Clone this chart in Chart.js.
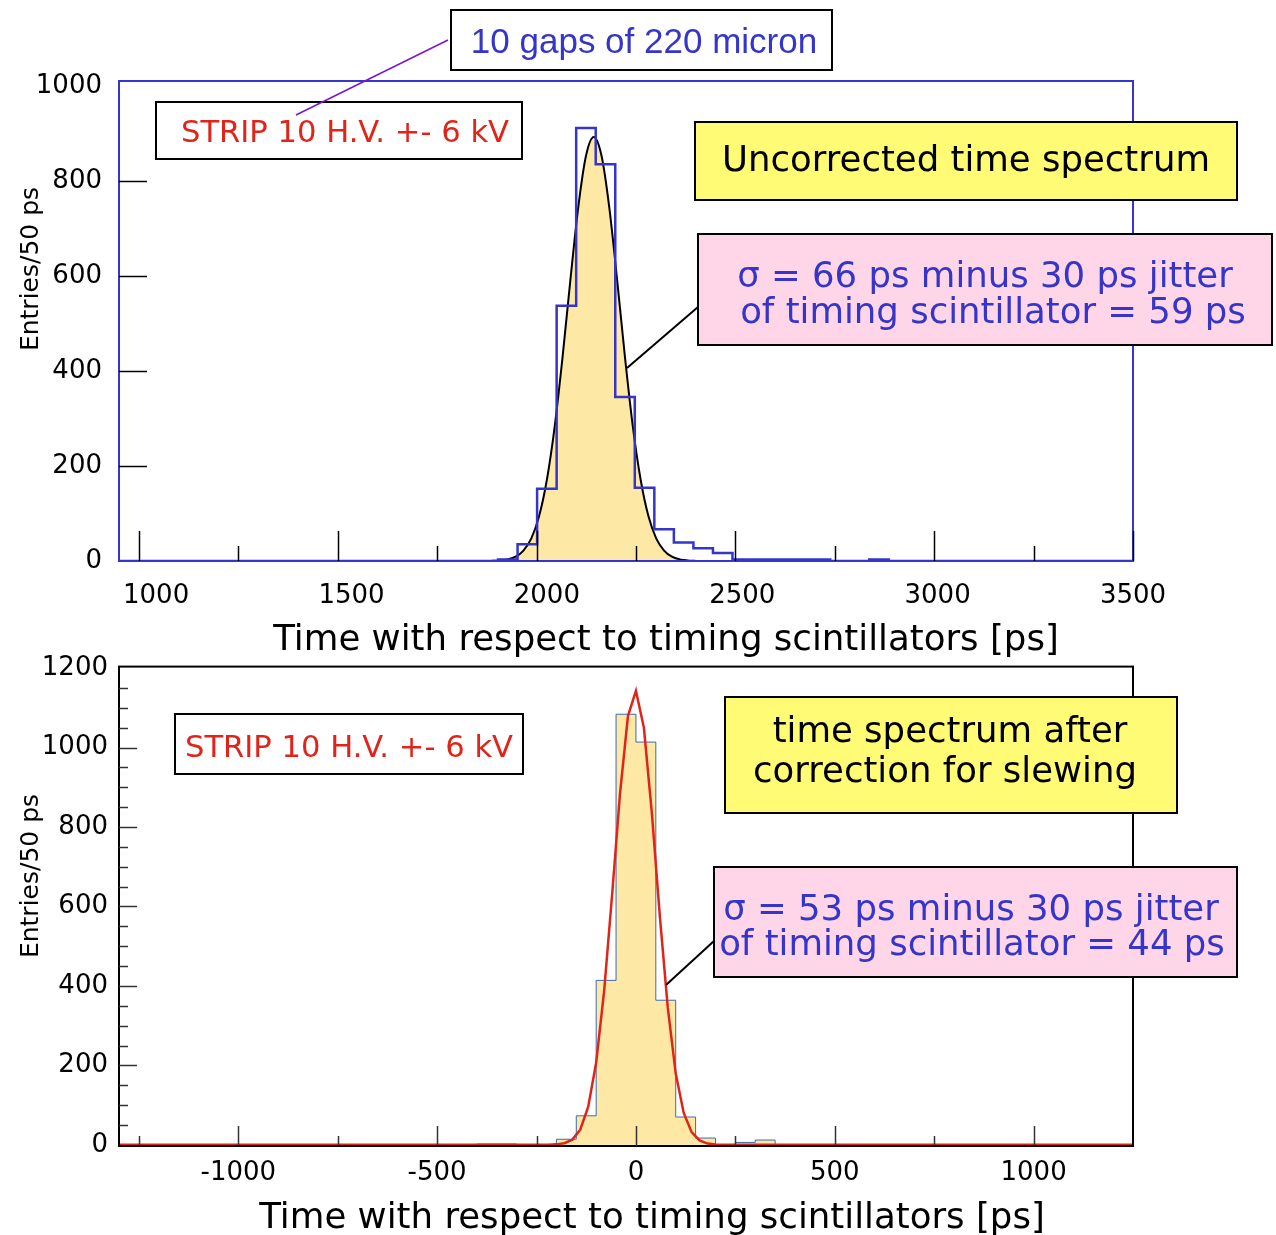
<!DOCTYPE html>
<html>
<head>
<meta charset="utf-8">
<title>Strip 10 time spectra</title>
<script src="https://cdn.jsdelivr.net/npm/chart.js@4.4.1/dist/chart.umd.min.js"></script>
<style>
  html, body { margin: 0; padding: 0; background: #fff; }
  #page  { position: relative; width: 1276px; height: 1235px; overflow: hidden; }
  .panel { position: absolute; left: 0; width: 1276px; }
  #topPanel { top: 0;     height: 662px; }
  #botPanel { top: 640px; height: 595px; }
</style>
</head>
<body>
<div id="page">
  <div class="panel" id="topPanel"><canvas id="chartTop"></canvas></div>
  <div class="panel" id="botPanel"><canvas id="chartBot"></canvas></div>
</div>
<script>
"use strict";

// ── DATA ────────────────────────────────────
// upper panel: uncorrected spectrum, 50 ps bins (lower edges, ps)
const topBinLow = [1875, 1925, 1975, 2025, 2075, 2125, 2175, 2225, 2275, 2325,
                   2375, 2425, 2475, 2525, 2575, 2625, 2675, 2725, 2775, 2825];
const topCounts = [3, 35, 152, 537, 911, 835, 345, 154, 67, 39,
                   27, 17, 3, 3, 3, 3, 3, 0, 0, 3];
// black fit curve
const topFitX = [1860, 1880, 1900, 1920, 1940, 1960, 1980, 2000, 2020, 2040, 2060, 2080, 2100, 2120,
                 2140, 2160, 2180, 2200, 2220, 2240, 2260, 2280, 2300, 2320, 2340, 2360, 2380];
const topFitY = [0.4, 1.2, 3.4, 9, 22, 47, 94, 171, 283, 428, 590, 742, 852, 892,
                 852, 742, 590, 428, 283, 171, 94, 47, 22, 9, 3.4, 1.2, 0.4];
const topXLabels = [1000, 1500, 2000, 2500, 3000, 3500];
const topYLabels = [0, 200, 400, 600, 800, 1000];

// lower panel: after slewing correction
const botBinLow = [-400, -350, -300, -250, -200, -150, -100, -50, 0, 50, 100, 150, 200, 250, 300];
const botCounts = [2, 2, 0, 0, 14, 73, 414, 1084, 1014, 364, 70, 17, 0, 6, 12];
// red fit curve
const botFitX = [-1300, -220, -200, -180, -160, -140, -120, -100, -80, -60, -40, -20, 0,
                 20, 40, 60, 80, 100, 120, 140, 160, 180, 200, 220, 1250];
const botFitY = [0, 0.2, 1.1, 4.1, 13, 38, 96, 207, 387, 629, 885, 1080, 1143,
                 1050, 836, 577, 346, 180, 81, 32, 11, 3, 0.8, 0.2, 0];
const botXLabels = [-1000, -500, 0, 500, 1000];
const botYLabels = [0, 200, 400, 600, 800, 1000, 1200];

// inner tick marks (the x ones sit on a -1300..1250 frame axis in both panels)
const topMarkLong  = [-1250, -750, -250, 250, 750, 1250];
const topMarkShort = [-1000, -500, 0, 500, 1000];
const topYMarks    = [200, 400, 600, 800];
const botMarkLong  = [-1000, -500, 0, 500, 1000];
const botMarkShort = [-1250, -750, -250, 250, 750];
const botYMajor    = [200, 400, 600, 800, 1000];
const botYMinor    = [50, 100, 150, 250, 300, 350, 450, 500, 550, 650, 700, 750,
                      850, 900, 950, 1050, 1100, 1150];

// ── STYLE ───────────────────────────────────
const BLUE      = "#3535c9";
const RED       = "#e0241a";
const FILL      = "#fde8a6";
const BOX_YEL   = "#fffb74";
const BOX_PINK  = "#ffd6e8";
const STEEL     = "#3b6cb2";
const PURPLE    = "#7b14d0";
const FONT      = "'DejaVu Sans'";
const X_TITLE   = "Time with respect to timing scintillators [ps]";

Chart.defaults.font.family = FONT;
Chart.defaults.color = "#000";

/* histogram outline as a stepped line, zero outside the bins */
function histPoints(low, counts, xmin, xmax) {
  const pts = [{ x: xmin, y: 0 }, { x: low[0], y: 0 }];
  low.forEach((x, i) => pts.push({ x: x, y: counts[i] }));
  pts.push({ x: low[low.length - 1] + 50, y: 0 }, { x: xmax, y: 0 });
  return pts;
}

function xyPoints(xs, ys) {
  return xs.map((x, i) => ({ x: x, y: ys[i] }));
}

/* frame, inward tick marks, captions and boxes */
function decor(cfg) {
  return {
    id: "decor",
    afterDatasetsDraw(chart) {
      const { ctx, chartArea: a, scales } = chart;
      ctx.save();
      ctx.strokeStyle = cfg.frameColor;
      ctx.lineWidth = 2;
      ctx.strokeRect(a.left, a.top, a.right - a.left, a.bottom - a.top);

      ctx.strokeStyle = cfg.markColor;
      ctx.lineWidth = 1.5;
      const xm = scales.xm, y = scales.y;
      cfg.xMarks.forEach(([vals, len]) => vals.forEach(v => {
        const px = Math.round(xm.getPixelForValue(v)) + 0.5;
        ctx.beginPath(); ctx.moveTo(px, a.bottom); ctx.lineTo(px, a.bottom - len); ctx.stroke();
      }));
      cfg.yMarks.forEach(([vals, len]) => vals.forEach(v => {
        const py = Math.round(y.getPixelForValue(v)) + 0.5;
        ctx.beginPath(); ctx.moveTo(a.left, py); ctx.lineTo(a.left + len, py); ctx.stroke();
      }));
      ctx.restore();
    },
    afterDraw(chart) {
      const ctx = chart.ctx, dy = cfg.dy;
      ctx.save();
      ctx.fillStyle = "#000";
      ctx.textBaseline = "alphabetic";
      ctx.textAlign = "center";

      // axis captions
      ctx.font = "25px " + FONT;
      ctx.save();
      ctx.translate(cfg.yTitle.x, cfg.yTitle.y - dy);
      ctx.rotate(-Math.PI / 2);
      ctx.fillText("Entries/50 ps", 0, 0);
      ctx.restore();
      ctx.font = "35.6px " + FONT;
      ctx.fillText(X_TITLE, cfg.xTitle.x, cfg.xTitle.y - dy);

      // connector lines under the boxes
      cfg.links.forEach(l => {
        ctx.strokeStyle = l.color; ctx.lineWidth = l.width;
        ctx.beginPath(); ctx.moveTo(l.from[0], l.from[1] - dy); ctx.lineTo(l.to[0], l.to[1] - dy); ctx.stroke();
      });

      cfg.boxes.forEach(b => {
        ctx.fillStyle = b.fill;
        ctx.fillRect(b.x, b.y - dy, b.w, b.h);
        ctx.strokeStyle = "#000"; ctx.lineWidth = 2;
        ctx.strokeRect(b.x, b.y - dy, b.w, b.h);
        ctx.font = b.font;
        ctx.fillStyle = b.color;
        b.lines.forEach(l => ctx.fillText(l.t, l.x, l.y - dy));
      });

      (cfg.overLinks || []).forEach(l => {
        ctx.strokeStyle = l.color; ctx.lineWidth = l.width;
        ctx.beginPath(); ctx.moveTo(l.from[0], l.from[1] - dy); ctx.lineTo(l.to[0], l.to[1] - dy); ctx.stroke();
      });
      ctx.restore();
    }
  };
}

function tickFont(size) { return { family: FONT, size: size }; }

/* ══════════════════════════════════════════
   UPPER PANEL — uncorrected time spectrum
══════════════════════════════════════════ */
new Chart(document.getElementById("chartTop"), {
  type: "line",
  data: {
    datasets: [{
      label: "fit",
      data: xyPoints(topFitX, topFitY),
      xAxisID: "x", yAxisID: "y",
      borderColor: "#000",
      borderWidth: 2,
      backgroundColor: FILL,
      fill: "origin",
      pointRadius: 0,
      cubicInterpolationMode: "monotone",
      order: 2,
    }, {
      label: "entries",
      data: histPoints(topBinLow, topCounts, 905, 3500),
      xAxisID: "x", yAxisID: "y",
      stepped: "before",
      borderColor: BLUE,
      borderWidth: 2.5,
      fill: false,
      pointRadius: 0,
      order: 1,
    }]
  },
  options: {
    responsive: true,
    maintainAspectRatio: false,
    animation: false,
    layout: { padding: { top: 81, right: 143, bottom: 0, left: 0 } },
    plugins: { legend: { display: false }, tooltip: { enabled: false } },
    scales: {
      x: {
        type: "linear", min: 905, max: 3500,
        afterBuildTicks: s => { s.ticks = topXLabels.map(v => ({ value: v })); },
        afterFit: s => { s.height = 101; },
        ticks: { autoSkip: false, maxRotation: 0, padding: 20, font: tickFont(26), callback: v => String(v) },
        grid: { display: false, drawTicks: false },
        border: { display: false },
      },
      xm: { type: "linear", display: false, min: -1300, max: 1250 },
      y: {
        type: "linear", min: 0, max: 1010,
        afterBuildTicks: s => { s.ticks = topYLabels.map(v => ({ value: v })); },
        afterFit: s => { s.width = 119; },
        ticks: { padding: 17, font: tickFont(26), callback: v => String(v) },
        grid: { display: false, drawTicks: false },
        border: { display: false },
      }
    }
  },
  plugins: [decor({
    dy: 0,
    frameColor: "#3636cc",
    markColor: "#000",
    xMarks: [[topMarkLong, 30], [topMarkShort, 15]],
    yMarks: [[topYMarks, 28]],
    yTitle: { x: 38, y: 269 },
    xTitle: { x: 666, y: 650 },
    links: [{ from: [627, 368], to: [698, 307], color: "#000", width: 2 }],
    overLinks: [{ from: [296, 115], to: [448, 40], color: PURPLE, width: 1.5 }],
    boxes: [
      { x: 451, y: 10, w: 381, h: 60, fill: "#fff", font: "35px 'Liberation Sans'", color: BLUE,
        lines: [{ t: "10 gaps of 220 micron", x: 644, y: 53 }] },
      { x: 156, y: 102, w: 366, h: 57, fill: "#fff", font: "30.6px " + FONT, color: RED,
        lines: [{ t: "STRIP 10 H.V. +- 6 kV", x: 345, y: 142 }] },
      { x: 695, y: 122, w: 542, h: 78, fill: BOX_YEL, font: "35.5px " + FONT, color: "#000",
        lines: [{ t: "Uncorrected time spectrum", x: 966, y: 171 }] },
      { x: 698, y: 234, w: 574, h: 111, fill: BOX_PINK, font: "35.5px " + FONT, color: BLUE,
        lines: [{ t: "σ = 66 ps minus 30 ps jitter", x: 985, y: 287 },
                { t: "of timing scintillator = 59 ps", x: 993, y: 323 }] },
    ]
  })]
});

/* ══════════════════════════════════════════
   LOWER PANEL — after slewing correction
══════════════════════════════════════════ */
new Chart(document.getElementById("chartBot"), {
  type: "line",
  data: {
    datasets: [{
      label: "entries",
      data: histPoints(botBinLow, botCounts, -1300, 1250),
      xAxisID: "x", yAxisID: "y",
      stepped: "before",
      borderColor: STEEL,
      borderWidth: 1,
      backgroundColor: FILL,
      fill: "origin",
      pointRadius: 0,
      order: 2,
    }, {
      label: "fit",
      data: xyPoints(botFitX, botFitY),
      xAxisID: "x", yAxisID: "y",
      borderColor: RED,
      borderWidth: 2.5,
      fill: false,
      pointRadius: 0,
      order: 1,
    }]
  },
  options: {
    responsive: true,
    maintainAspectRatio: false,
    animation: false,
    layout: { padding: { top: 26, right: 143, bottom: 0, left: 0 } },
    plugins: { legend: { display: false }, tooltip: { enabled: false } },
    scales: {
      x: {
        type: "linear", min: -1300, max: 1250,
        afterBuildTicks: s => { s.ticks = botXLabels.map(v => ({ value: v })); },
        afterFit: s => { s.height = 89; },
        ticks: { autoSkip: false, maxRotation: 0, padding: 12, font: tickFont(26), callback: v => String(v) },
        grid: { display: false, drawTicks: false },
        border: { display: false },
      },
      xm: { type: "linear", display: false, min: -1300, max: 1250 },
      y: {
        type: "linear", min: -3, max: 1204,
        afterBuildTicks: s => { s.ticks = botYLabels.map(v => ({ value: v })); },
        afterFit: s => { s.width = 119; },
        ticks: { padding: 11, font: tickFont(26), callback: v => String(v) },
        grid: { display: false, drawTicks: false },
        border: { display: false },
      }
    }
  },
  plugins: [decor({
    dy: 640,
    frameColor: "#000",
    markColor: "#333",
    xMarks: [[botMarkLong, 20], [botMarkShort, 10]],
    yMarks: [[botYMajor, 18], [botYMinor, 9]],
    yTitle: { x: 38, y: 876 },
    xTitle: { x: 652, y: 1228 },
    links: [{ from: [666, 985], to: [714, 941], color: "#000", width: 2 }],
    boxes: [
      { x: 175, y: 714, w: 348, h: 60, fill: "#fff", font: "30.6px " + FONT, color: RED,
        lines: [{ t: "STRIP 10 H.V. +- 6 kV", x: 349, y: 757 }] },
      { x: 725, y: 697, w: 452, h: 116, fill: BOX_YEL, font: "35.5px " + FONT, color: "#000",
        lines: [{ t: "time spectrum after", x: 950, y: 742 },
                { t: "correction for slewing", x: 945, y: 782 }] },
      { x: 714, y: 867, w: 523, h: 110, fill: BOX_PINK, font: "35.5px " + FONT, color: BLUE,
        lines: [{ t: "σ = 53 ps minus 30 ps jitter", x: 971, y: 920 },
                { t: "of timing scintillator = 44 ps", x: 972, y: 955 }] },
    ]
  })]
});
</script>
</body>
</html>
